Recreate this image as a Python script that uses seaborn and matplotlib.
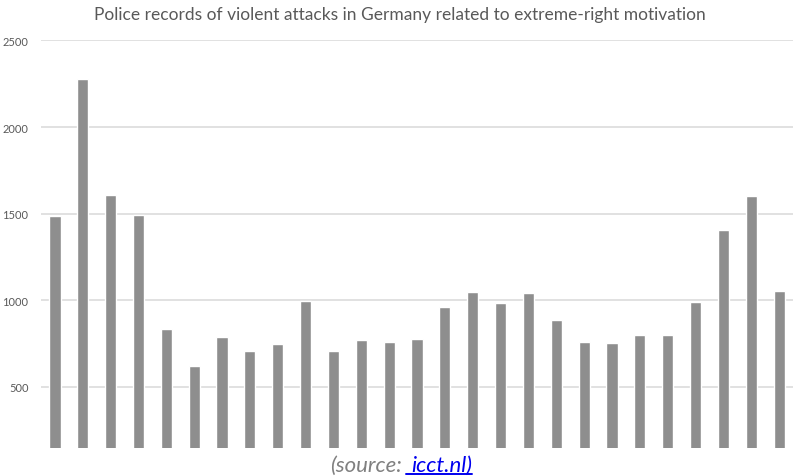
import matplotlib
matplotlib.use('Agg')
import matplotlib.pyplot as plt
import seaborn as sns
import pandas as pd

years = [str(y) for y in range(1991, 2018)]
attacks = [1485, 2276, 1607, 1492, 835, 622, 787, 705, 746, 998,
           705, 771, 757, 777, 958, 1046, 983, 1040, 888, 758,
           753, 800, 800, 989, 1408, 1601, 1052]

df = pd.DataFrame({'year': years, 'attacks': attacks})

sns.set_style('white')
plt.rcParams['font.family'] = ['Lato', 'DejaVu Sans']

fig = plt.figure(figsize=(7.95, 4.77), dpi=100)
ax = fig.add_axes([0.0516, 0.0587, 0.9459, 0.8543])

sns.barplot(data=df, x='year', y='attacks', color='#8e8e8e', width=0.4,
            saturation=1, ax=ax)

ax.set_ylim(146, 2500)
ax.set_xlim(-0.5, len(years) - 0.5)
ax.set_yticks([500, 1000, 1500, 2000, 2500])
ax.yaxis.grid(True, color='#dcdcdc', linewidth=1.2)
ax.set_axisbelow(True)
ax.set_xticks([])
ax.set_xlabel('')
ax.set_ylabel('')
ax.tick_params(axis='y', length=0, labelsize=8, labelcolor='#595959', pad=9)
for s in ax.spines.values():
    s.set_visible(False)

fig.text(0.503, 0.968, 'Police records of violent attacks in Germany related to extreme-right motivation',
         ha='center', va='center', fontsize=12.5, color='#595959')

# caption with coloured, underlined link part
t1 = fig.text(0.415, 0.011, '(source:', ha='left', va='baseline', fontsize=16,
              style='italic', color='#808080')
t2 = fig.text(0.517, 0.011, 'icct.nl)', ha='left', va='baseline', fontsize=16,
              style='italic', color='#0000ee')
fig.canvas.draw()
r = fig.canvas.get_renderer()
bb = t2.get_window_extent(renderer=r).transformed(fig.transFigure.inverted())
fig.add_artist(plt.Line2D([0.511, bb.x1], [0.005, 0.005], color='#0000ee',
                          linewidth=1.4, transform=fig.transFigure))

fig.savefig('out.png', dpi=100)
